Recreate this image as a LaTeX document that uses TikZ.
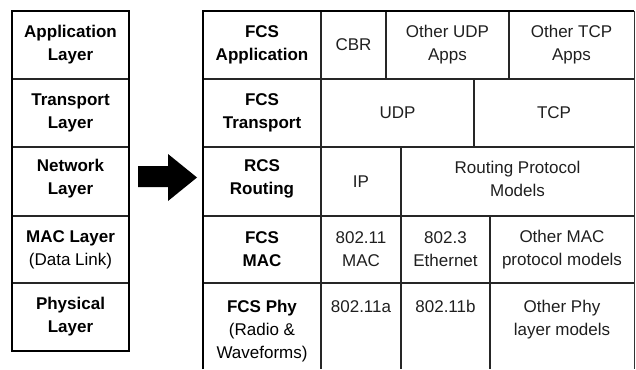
\documentclass[tikz,border=0pt]{standalone}
\usepackage{fontspec}
\setmainfont{Liberation Sans}
\begin{document}
\begin{tikzpicture}[x=1pt,y=-1pt,
  txt/.style={inner sep=0pt,align=center,font=\fontsize{17}{23}\selectfont,text=black!88},
  lbl/.style={txt,font=\fontsize{17}{23}\selectfont\bfseries,text=black},
  toptxt/.style={txt,anchor=north},
  frame/.style={line width=2pt,draw=black},
  grid/.style={line width=1.4pt,draw=black!85},
  thin/.style={line width=1pt,draw=black!80},
  arrowshape/.style={fill=black,draw=none}]
\useasboundingbox (0,0) rectangle (636,369);
% left table
\draw[grid] (12,79) -- (129,79) (12,147) -- (129,147) (12,216) -- (129,216) (12,283) -- (129,283);
\draw[frame] (12,11) rectangle (129,351);
\node[lbl] (app) at (70.5,45) {Application\\Layer};
\node[lbl] (tra) at (70.5,113) {Transport\\Layer};
\node[lbl] (net) at (70.5,179) {Network\\Layer};
\node[lbl] (mac) at (70.5,249.5) {MAC Layer\\{\mdseries (Data Link)}};
\node[lbl] (phy) at (70.5,317) {Physical\\Layer};
% arrow
\fill[arrowshape] (138,166) -- (168,166) -- (168,154) -- (197,177.5) -- (168,201) -- (168,187) -- (138,187) -- cycle;
% right table grid
\draw[grid] (203,79) -- (634,79) (203,147) -- (634,147) (203,216) -- (634,216) (203,283) -- (634,283);
\draw[grid] (321,11) -- (321,369);
\draw[grid] (386,11) -- (386,79) (509,11) -- (509,79);
\draw[grid] (474,79) -- (474,147);
\draw[grid] (401,147) -- (401,369);
\draw[grid] (490,216) -- (490,369);
\draw[thin] (634,11) -- (634,369);
\draw[frame] (203,369) -- (203,11) -- (634,11);
% right labels
\node[lbl] (fapp) at (262,45) {FCS\\Application};
\node[lbl] (ftra) at (262,113) {FCS\\Transport};
\node[lbl] (frou) at (262,179) {RCS\\Routing};
\node[lbl] (fmac) at (262,249.5) {FCS\\MAC};
\node[lbl,anchor=north] (fphy) at (262,300) {FCS Phy\\{\mdseries (Radio \&}\\{\mdseries Waveforms)}};
% row 1
\node[txt] (cbr) at (353.5,45) {CBR};
\node[txt] (oudp) at (447.5,45) {Other UDP\\Apps};
\node[txt] (otcp) at (571.5,45) {Other TCP\\Apps};
% row 2
\node[txt] (udp) at (397.5,113) {UDP};
\node[txt] (tcp) at (554,113) {TCP};
% row 3
\node[txt] (ip) at (361,181.5) {IP};
\node[txt] (rpm) at (517.5,179) {Routing Protocol\\Models};
% row 4
\node[txt] (m80211) at (361,249.5) {802.11\\MAC};
\node[txt] (m8023) at (445.5,249.5) {802.3\\Ethernet};
\node[txt] (omac) at (562,249.5) {Other MAC\\protocol models};
% row 5
\node[toptxt] (p11a) at (361,300) {802.11a};
\node[toptxt] (p11b) at (445.5,300) {802.11b};
\node[toptxt] (ophy) at (562,300) {Other Phy\\layer models};
\end{tikzpicture}
\end{document}
